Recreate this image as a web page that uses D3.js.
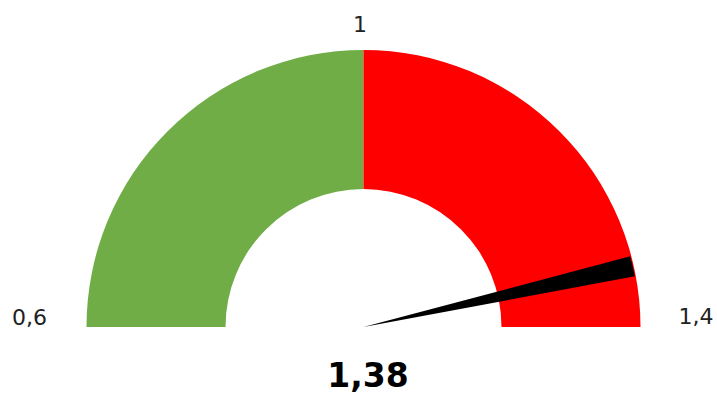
<!DOCTYPE html>
<html>
<head>
<meta charset="utf-8">
<script src="https://cdn.jsdelivr.net/npm/d3@7"></script>
<style>
  html, body { margin: 0; padding: 0; background: #fff; }
  svg { display: block; }
</style>
</head>
<body>
<svg id="chart" width="717" height="400"></svg>
<script>
// ---- data ----
const scaleMin = 0.6;
const scaleMax = 1.4;
const bandStarts = [0.6, 1.0];
const bandEnds = [1.0, 1.4];
const bandColors = ["#70AD47", "#FF0000"];
const tickValues = [0.6, 1.0, 1.4];
const tickLabels = ["0,6", "1", "1,4"];
const needleSpan = [1.334, 1.353];   // needle wedge as drawn, in scale units
const gaugeValueLabel = "1,38";

// ---- layout ----
const svg = d3.select("#chart");
const cx = 363.5, cy = 327;
const rOuter = 277, rInner = 138;

const angle = d3.scaleLinear().domain([scaleMin, scaleMax]).range([-Math.PI / 2, Math.PI / 2]);

const g = svg.append("g").attr("transform", `translate(${cx},${cy})`);

const arc = d3.arc().innerRadius(rInner).outerRadius(rOuter);
g.selectAll("path.band")
  .data(bandStarts.map((s, i) => ({ s, e: bandEnds[i], c: bandColors[i] })))
  .join("path")
  .attr("class", "band")
  .attr("d", d => arc({ startAngle: angle(d.s), endAngle: angle(d.e) }))
  .attr("fill", d => d.c);

// needle wedge
const needleArc = d3.arc().innerRadius(0).outerRadius(rOuter - 1);
g.append("path")
  .attr("d", needleArc({ startAngle: angle(needleSpan[0]), endAngle: angle(needleSpan[1]) }))
  .attr("fill", "#000");

// tick labels
const labelPos = [
  { r: 334, dx: 0, dy: -10 },
  { r: 303, dx: -3.5, dy: 0 },
  { r: 332.5, dx: 0, dy: -11 }
];
g.selectAll("text.tick")
  .data(tickValues.map((v, i) => ({ v, t: tickLabels[i], p: labelPos[i] })))
  .join("text")
  .attr("class", "tick")
  .attr("x", d => d.p.r * Math.sin(angle(d.v)) + d.p.dx)
  .attr("y", d => -d.p.r * Math.cos(angle(d.v)) + d.p.dy)
  .attr("text-anchor", "middle")
  .attr("dominant-baseline", "central")
  .attr("font-family", "DejaVu Sans, sans-serif")
  .attr("font-size", 22)
  .attr("fill", "#222")
  .text(d => d.t);

// value label
svg.append("text")
  .attr("x", 368)
  .attr("y", 387)
  .attr("text-anchor", "middle")
  .attr("font-family", "DejaVu Sans, sans-serif")
  .attr("font-weight", "bold")
  .attr("font-size", 33)
  .attr("fill", "#000")
  .text(gaugeValueLabel);
</script>
</body>
</html>
